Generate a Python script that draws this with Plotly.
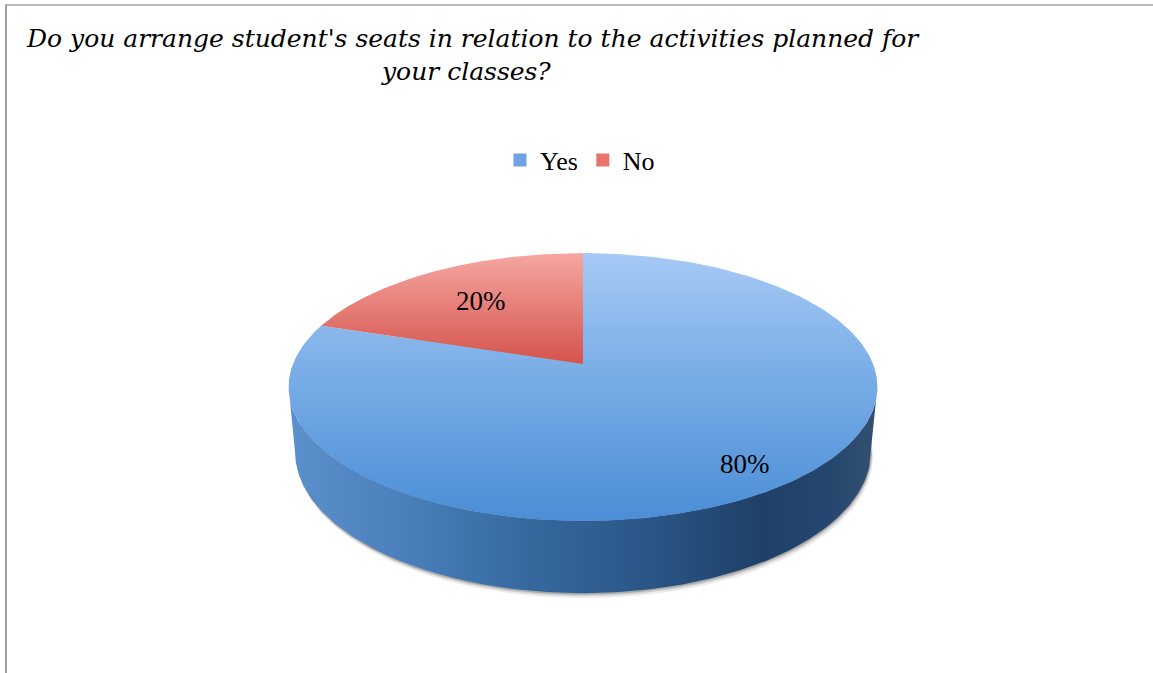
import numpy as np
import plotly.graph_objects as go

# Survey answers
categories = ["Yes", "No"]
shares = [80, 20]
labels = ["80%", "20%"]

title_lines = ["Do you arrange student's seats in relation to the activities planned for",
               "your classes?"]

W, H = 1153, 673

# 3D pie geometry (pixel space, perspective camera)
CX, CY = 583.0, 364.0          # screen position of the pie centre
R = 1.0                        # pie radius (world units)
DIST = 5.21                    # camera distance
FOCAL = 1511.0                 # focal length in pixels
SIN_T, COS_T = 0.448, 0.894    # camera elevation
THICK = 0.25                   # pie thickness


def project(ang_deg, rad=R, z=0.0):
    a = np.radians(ang_deg)
    X = rad * np.cos(a)
    Y = rad * np.sin(a)
    vert = Y * SIN_T + z * COS_T
    depth = DIST + Y * COS_T - z * SIN_T
    return CX + FOCAL * X / depth, CY - FOCAL * vert / depth


def arc(a0, a1, z=0.0, n=200):
    angs = np.linspace(a0, a1, n)
    return project(angs, R, z)


# slice angles: clockwise from 12 o'clock
total = float(sum(shares))
starts, ends = [], []
cur = 90.0
for s in shares:
    starts.append(cur)
    cur -= s / total * 360.0
    ends.append(cur)

fig = go.Figure()

# soft shadow under the base
bx, by = arc(0, 360, -THICK, 400)
for off, alpha in [(5, 0.08), (3, 0.12), (1.5, 0.18)]:
    fig.add_trace(go.Scatter(
        x=np.append(bx, bx[0]) + off * 0.4, y=np.append(by, by[0]) + off,
        mode="lines", fill="toself", line=dict(width=0),
        fillcolor=f"rgba(0,0,0,{alpha})", hoverinfo="skip", showlegend=False))

# side wall: find silhouette angles of the top and bottom rims
angs = np.linspace(90, 450, 3601)
tx, _ = project(angs, R, 0.0)
bx2, _ = project(angs, R, -THICK)
tl, tr = angs[np.argmin(tx)], angs[np.argmax(tx)]
bl, br = angs[np.argmin(bx2)], angs[np.argmax(bx2)]
if tr < tl:
    tr += 360
if br < bl:
    br += 360
sx1, sy1 = arc(tl, tr, 0.0)
sx2, sy2 = arc(br, bl, -THICK)
side_x = np.concatenate([sx1, sx2, sx1[:1]])
side_y = np.concatenate([sy1, sy2, sy1[:1]])
fig.add_trace(go.Scatter(
    x=side_x, y=side_y, mode="lines", fill="toself", line=dict(width=0),
    fillgradient=dict(type="horizontal", start=float(side_x.min()), stop=float(side_x.max()),
                      colorscale=[[0.0, "#5B90CC"], [0.2, "#4A7FBB"], [0.4, "#36699F"],
                                  [0.6, "#2B5788"], [0.8, "#1F4068"], [0.92, "#25476F"],
                                  [1.0, "#33506F"]]),
    hoverinfo="skip", showlegend=False))

# top faces of the slices
top_y0 = float(project(90, R)[1])
bot_y0 = float(project(270, R)[1])
grads = {
    "Yes": [[0.0, "#A6CAF6"], [0.45, "#7AADE6"], [1.0, "#4A8ED6"]],
    "No": [[0.0, "#F6A7A2"], [1.0, "#D4534B"]],
}
for cat, a0, a1 in zip(categories, starts, ends):
    ax, ay = arc(a0, a1, 0.0, 300)
    px = np.concatenate([[CX], ax, [CX]])
    py = np.concatenate([[CY], ay, [CY]])
    if cat == "Yes":
        g0, g1 = top_y0, bot_y0
    else:
        g0, g1 = float(py.min()), float(py.max())
    fig.add_trace(go.Scatter(
        x=px, y=py, mode="lines", fill="toself", line=dict(width=0),
        fillgradient=dict(type="vertical", start=g0, stop=g1, colorscale=grads[cat]),
        hoverinfo="skip", showlegend=False, name=cat))

# legend entries
legend_colors = {"Yes": "#6FA3E3", "No": "#E8756D"}
for cat in categories:
    fig.add_trace(go.Scatter(
        x=[None], y=[None], mode="markers", name=cat,
        marker=dict(symbol="square", size=13, color=legend_colors[cat]),
        showlegend=True))

# value labels
label_radius = {"Yes": 0.84, "No": 0.65}
for cat, a0, a1, lab in zip(categories, starts, ends, labels):
    mid = (a0 + a1) / 2.0
    lx, ly = project(mid, label_radius[cat])
    fig.add_annotation(x=float(lx), y=float(ly), text=lab, showarrow=False,
                       font=dict(family="Liberation Serif", size=27, color="#000000"))

# two-line italic title
title_font = dict(family="DejaVu Serif", size=25, color="#000000", style="italic")
for line, tx_c, ty_c in zip(title_lines, [473, 466], [38, 72]):
    fig.add_annotation(xref="paper", yref="paper", x=tx_c / W, y=1 - ty_c / H,
                       xanchor="center", yanchor="middle", text=line,
                       showarrow=False, font=title_font)

fig.update_layout(
    width=W, height=H,
    margin=dict(l=0, r=0, t=0, b=0),
    paper_bgcolor="white", plot_bgcolor="white",
    xaxis=dict(range=[0, W], visible=False, fixedrange=True),
    yaxis=dict(range=[H, 0], visible=False, fixedrange=True),
    showlegend=True,
    legend=dict(orientation="h", x=0.503, xanchor="center", y=1 - 160 / H, yanchor="middle",
                font=dict(family="Liberation Serif", size=26, color="#000000"),
                bgcolor="rgba(0,0,0,0)", itemclick=False, itemwidth=30),
    shapes=[
        dict(type="line", xref="paper", yref="paper", x0=5 / W, x1=1, y0=1 - 5 / H, y1=1 - 5 / H,
             line=dict(color="#a0a0a0", width=1.5)),
        dict(type="line", xref="paper", yref="paper", x0=6 / W, x1=6 / W, y0=0, y1=1 - 5 / H,
             line=dict(color="#a0a0a0", width=2)),
    ],
)

fig.write_html("out.html")
